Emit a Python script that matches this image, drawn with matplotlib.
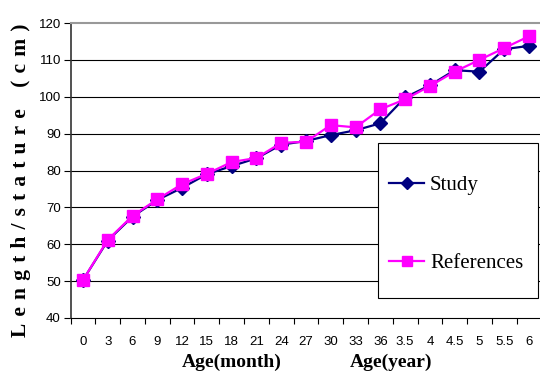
import matplotlib
matplotlib.use("Agg")
import matplotlib.pyplot as plt
from matplotlib.patches import Rectangle

ages = ["0", "3", "6", "9", "12", "15", "18", "21", "24", "27", "30", "33", "36",
        "3.5", "4", "4.5", "5", "5.5", "6"]
study = [50.3, 61.0, 67.5, 72.0, 75.3, 79.0, 81.2, 83.3, 87.0, 88.0, 89.6, 90.9,
         92.8, 99.8, 103.1, 107.2, 106.8, 112.9, 113.8]
references = [50.3, 61.2, 67.7, 72.2, 76.3, 79.1, 82.3, 83.4, 87.5, 87.8, 92.3, 91.7,
              96.6, 99.3, 102.9, 106.8, 110.0, 113.2, 116.4]

tick_font = ["Liberation Sans Narrow", "Liberation Sans", "DejaVu Sans"]
serif = ["Liberation Serif", "DejaVu Serif"]

fig = plt.figure(figsize=(5.4, 3.71), dpi=100)
ax = fig.add_axes([70.6 / 540, 53 / 371, 470.8 / 540, 295 / 371])

x = list(range(len(ages)))
ax.plot(x, study, color="#000080", lw=1.6, marker="D", ms=7.5, label="Study", zorder=3)
ax.plot(x, references, color="#FF00FF", lw=1.6, marker="s", ms=9, label="References", zorder=4)

ax.set_xlim(-0.5, len(ages) - 0.5)
ax.set_ylim(40, 120)
ax.set_yticks(range(40, 121, 10))
for v in range(50, 120, 10):
    ax.axhline(v, color="black", lw=0.8, zorder=1)

ax.set_xticks(x)
ax.set_xticklabels(ages, family=tick_font, fontsize=9.5)
ax.set_xticks([i - 0.5 for i in range(len(ages) + 1)], minor=True)
ax.tick_params(axis="x", which="major", length=0, pad=13)
ax.tick_params(axis="x", which="minor", length=4, direction="out", width=0.8)
ax.tick_params(axis="y", length=5, width=0.8, pad=2)
for lbl in ax.get_yticklabels():
    lbl.set_family(tick_font)
    lbl.set_fontsize(9.5)

ax.spines["right"].set_visible(False)
ax.spines["top"].set_color("#999999")
ax.spines["top"].set_linewidth(1.5)
ax.spines["left"].set_color("#333333")
ax.spines["left"].set_linewidth(1.2)
ax.spines["bottom"].set_linewidth(0.8)

# spaced-out axis title
ylab = "\u2004".join("Length/stature") + "\u2004\u2004\u2004" + "\u2004".join("(cm)")
fig.text(21 / 540, 1 - 180 / 371, ylab,
         rotation=90, ha="center", va="center", family=serif,
         fontweight="bold", fontsize=15.5)
fig.text(232 / 540, 1 - 362 / 371, "Age(month)", ha="center", va="center",
         family=serif, fontweight="bold", fontsize=14)
fig.text(391 / 540, 1 - 362 / 371, "Age(year)", ha="center", va="center",
         family=serif, fontweight="bold", fontsize=14)

# legend box drawn separately so it can be taller than the entries need
box = Rectangle((377.7 / 540, 1 - 297.7 / 371), 160 / 540, 155 / 371,
                transform=fig.transFigure, facecolor="white",
                edgecolor="black", lw=0.8, zorder=5, clip_on=False)
ax.add_patch(box)
leg = ax.legend(loc="upper left", bbox_to_anchor=(379 / 540, 1 - 165 / 371),
                bbox_transform=fig.transFigure, frameon=False,
                prop={"family": serif, "size": 15}, handlelength=1.65,
                handletextpad=0.3, labelspacing=2.8, borderpad=0, markerscale=0.85)
leg.set_zorder(6)

fig.savefig("out.png", dpi=100)
